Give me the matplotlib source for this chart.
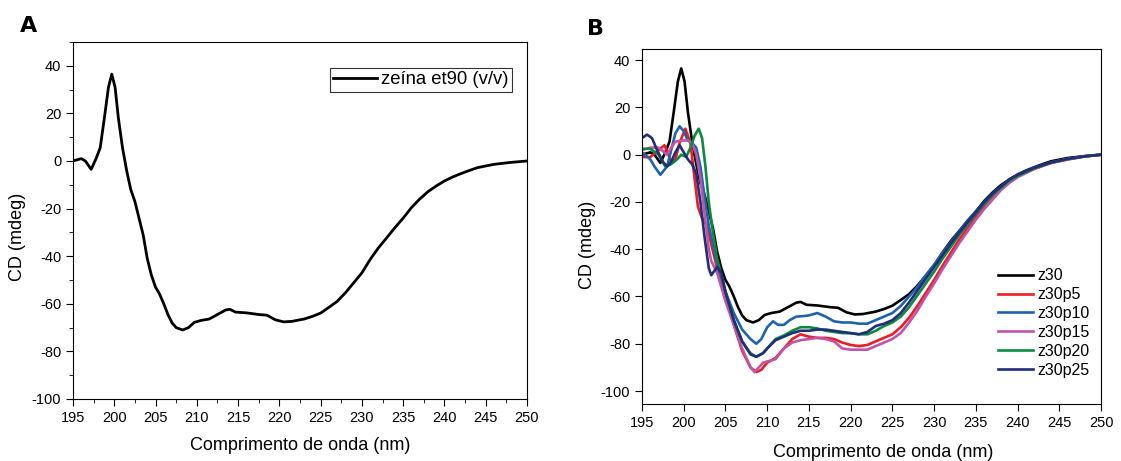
import matplotlib.pyplot as plt
from matplotlib.ticker import MultipleLocator

plt.rcParams['font.family'] = ['Liberation Sans', 'DejaVu Sans']
plt.rcParams['axes.unicode_minus'] = False

# z30 (zeína et90) - same spectrum in both panels
wl_z30 = [195, 196, 196.5, 197.2, 197.8, 198.3, 198.8, 199.3, 199.7, 200.1, 200.5, 201, 201.5,
          202, 202.5, 203, 203.5, 204, 204.5, 205, 205.5, 206, 206.5, 207, 207.5, 208.3, 209,
          209.7, 210.5, 211.5, 212.5, 213.5, 214, 214.7, 216, 217.5, 218.5, 219.5, 220.5, 221.5,
          223, 224, 225, 226, 227, 228, 229, 230, 231, 232, 233, 234, 235, 236, 237, 238, 239,
          240, 241, 242, 243, 244, 245, 246, 247, 248, 249, 250]
cd_z30 = [0, 1, 0, -3.5, 1, 5.6, 18, 31, 36.5, 31, 18, 5.6, -4,
          -12, -17, -24, -31, -41, -48, -53, -56, -60, -64.5, -68, -70, -71, -70,
          -67.8, -67, -66.4, -64.5, -62.6, -62.3, -63.5, -63.8, -64.5, -64.8, -66.7, -67.6, -67.4,
          -66.4, -65.3, -63.9, -61.5, -59, -55.4, -51.2, -47, -41.4, -36.5, -32.3, -28, -24, -19.6,
          -16, -12.9, -10.5, -8.4, -6.7, -5.3, -4, -2.8, -2.1, -1.4, -1, -0.6, -0.3, 0]

wl_p5 = [195, 196, 197, 197.7, 198.5, 199, 199.5, 200.2, 200.8, 201.3, 201.7, 202.2, 202.8, 203.3,
         204, 205, 206, 207, 208, 208.7, 209.3, 210, 211, 212, 213, 214, 215, 216, 217, 218, 219,
         220, 221, 222, 223, 224, 225, 226, 227, 228, 229, 230, 231, 232, 233, 234, 235, 236, 237,
         238, 239, 240, 242, 244, 246, 248, 250]
cd_p5 = [-1, -1, 2, 4, -3, -2, 5, 11, 5, -10, -22, -27, -30, -38,
         -48, -60, -72, -83, -90, -92, -91, -88, -86, -82, -78, -76, -77, -77.5, -77.5, -78, -79.5,
         -80.5, -81, -80.5, -79, -77.5, -76, -73, -69, -64, -58.5, -53, -47, -41.5, -36, -31, -26,
         -21.5, -17.5, -14, -11, -9, -6, -3.5, -2, -0.8, 0]

wl_p10 = [195, 196, 196.5, 197.2, 198, 198.5, 199, 199.5, 200, 200.5, 201, 201.5, 202, 202.5, 203,
          203.5, 204, 205, 206, 207, 207.5, 208, 208.7, 209.3, 210, 210.7, 211.3, 212, 212.7, 213.5,
          214.3, 215, 216, 217, 218, 219, 220, 221, 222, 223, 224, 225, 226, 227, 228, 229, 230,
          231, 232, 233, 234, 235, 236, 237, 238, 239, 240, 242, 244, 246, 248, 250]
cd_p10 = [1, -2, -5, -8.5, -5, 2, 9, 12, 10, 6, 5, 3, -5, -18, -30,
          -38, -46, -58, -67, -74, -76, -78, -80, -78, -73, -70.5, -72, -72, -70, -68.5,
          -68.3, -68, -67, -68.5, -70.5, -71, -71, -71.5, -71.5, -70, -68.5, -67, -64, -60, -56, -51,
          -46.5, -41.5, -37, -32.5, -28, -24, -20, -16.5, -13.5, -10.5, -8.5, -5.5, -3.3, -1.8,
          -0.7, 0]

wl_p15 = [195, 196, 197, 198, 198.5, 199, 199.8, 200.5, 201, 201.5, 202, 202.5, 203, 203.3, 204,
          205, 206, 207, 208, 208.5, 209, 209.5, 210, 211, 212, 213, 214, 215, 216, 217, 218, 219,
          220, 221, 222, 223, 224, 225, 226, 227, 228, 229, 230, 231, 232, 233, 234, 235, 236, 237,
          238, 239, 240, 242, 244, 246, 248, 250]
cd_p15 = [2, 3, 3, 0, 3, 5.5, 6, 6, 5, 0, -10, -25, -40, -45, -50,
          -62, -72, -82, -90, -92, -90, -88, -87.5, -86.5, -82, -79.5, -78.5, -78, -77.5, -78, -79,
          -82, -82.5, -82.5, -82.5, -81, -79.5, -78, -75.5, -71, -66, -60, -54.5, -48.5, -43, -37.5,
          -32.5, -27.5, -23, -19, -15, -12, -9.5, -6, -3.5, -2, -0.8, 0]

wl_p20 = [195, 196, 197, 197.8, 198.5, 199.2, 199.7, 200.3, 200.8, 201.3, 201.8, 202.2, 202.6, 203,
          203.5, 204, 205, 206, 207, 208, 208.7, 209.5, 210, 211, 212, 213, 214, 215, 216, 217, 218,
          219, 220, 221, 222, 223, 224, 225, 226, 227, 228, 229, 230, 231, 232, 233, 234, 235, 236,
          237, 238, 239, 240, 242, 244, 246, 248, 250]
cd_p20 = [2.5, 2.5, 0, -5, -4, -2, 0, -1, 3, 8, 11, 7, -5, -20,
          -33, -44, -58, -70, -79, -84, -85.5, -84, -82, -78, -76.5, -74.5, -73, -73, -73.5, -74.5,
          -75, -75.5, -75.5, -76, -76, -74.5, -72.5, -71, -68.5, -64.5, -59.5, -54.5, -49.5, -44,
          -39, -34, -29.5, -25, -21, -17, -14, -11, -9, -5.8, -3.4, -1.8, -0.7, 0]

wl_p25 = [195, 195.6, 196.2, 196.8, 197.5, 198, 198.5, 199, 199.5, 200, 200.5, 201, 201.5, 202,
          202.5, 203, 203.3, 203.7, 204, 204.5, 205, 206, 207, 208, 208.7, 209.5, 210, 211, 212,
          213, 214, 215, 216, 217, 218, 219, 220, 221, 222, 223, 224, 225, 226, 227, 228, 229, 230,
          231, 232, 233, 234, 235, 236, 237, 238, 239, 240, 242, 244, 246, 248, 250]
cd_p25 = [7, 8.5, 7, 2, -3, -5, -3, 1, 4, 1, -2, -4, -8, -20,
          -35, -48, -51, -49, -47.5, -50, -58, -70, -79, -84.5, -85.5, -84, -82, -78.5, -77,
          -75.5, -74.5, -74.5, -74, -74, -74.5, -75, -75.5, -76, -75, -72.5, -71.5, -70, -67, -62.5,
          -57.5, -52.5, -47.5, -42.5, -37.5, -33, -28.5, -24.5, -20, -16.5, -13.5, -10.5, -8.5,
          -5.5, -3.3, -1.8, -0.7, 0]

labels_b = ['z30', 'z30p5', 'z30p10', 'z30p15', 'z30p20', 'z30p25']
colors_b = ['black', '#ed1c24', '#1e62b0', '#c054a8', '#0a8a3e', '#222d78']

fig = plt.figure(figsize=(11.21, 4.61), dpi=100)

# panel A
axA = fig.add_axes([0.0651, 0.1345, 0.405, 0.7744])
axA.plot(wl_z30, cd_z30, color='black', lw=2, label='zeína et90 (v/v)')
axA.set_xlim(195, 250)
axA.set_ylim(-100, 50)
axA.set_xticks(range(195, 251, 5))
axA.set_yticks(range(-100, 41, 20))
axA.xaxis.set_minor_locator(MultipleLocator(2.5))
axA.yaxis.set_minor_locator(MultipleLocator(10))
axA.tick_params(which='both', direction='out', labelsize=10.5, top=False, right=False)
axA.tick_params(which='major', length=5)
axA.tick_params(which='minor', length=3)
axA.set_xlabel('Comprimento de onda (nm)', fontsize=13)
axA.xaxis.set_label_coords(0.5, -0.106)
axA.set_ylabel('CD (mdeg)', fontsize=13)
axA.yaxis.set_label_coords(-0.104, 0.454)
leg = axA.legend(loc='upper right', bbox_to_anchor=(0.967, 0.927), borderaxespad=0,
                 fontsize=13.3, frameon=True, fancybox=False, edgecolor='black',
                 handlelength=2.4, handletextpad=0.2, borderpad=0.18)
leg.get_frame().set_linewidth(0.8)
fig.text(0.018, 0.93, 'A', fontsize=16, fontweight='bold', family='DejaVu Sans')

# panel B
axB = fig.add_axes([0.5727, 0.1236, 0.4095, 0.770])
series_b = [(wl_z30, cd_z30), (wl_p5, cd_p5), (wl_p10, cd_p10),
            (wl_p15, cd_p15), (wl_p20, cd_p20), (wl_p25, cd_p25)]
for (x, y), lab, col in zip(series_b, labels_b, colors_b):
    axB.plot(x, y, color=col, lw=1.9, label=lab)
axB.set_xlim(195, 250)
axB.set_ylim(-105.5, 44.7)
axB.set_xticks(range(195, 251, 5))
axB.set_yticks(range(-100, 41, 20))
axB.tick_params(direction='out', length=5, labelsize=10.5, top=False, right=False)
axB.set_xlabel('Comprimento de onda (nm)', fontsize=13)
axB.xaxis.set_label_coords(0.526, -0.112)
axB.set_ylabel('CD (mdeg)', fontsize=13)
axB.yaxis.set_label_coords(-0.100, 0.448)
axB.legend(loc='upper left', bbox_to_anchor=(0.776, 0.382), borderaxespad=0, borderpad=0,
           fontsize=11.5, frameon=False, handlelength=2.2, handletextpad=0.25, labelspacing=0.24)
fig.text(0.524, 0.925, 'B', fontsize=16, fontweight='bold', family='DejaVu Sans')

fig.savefig('out.png', dpi=100)
